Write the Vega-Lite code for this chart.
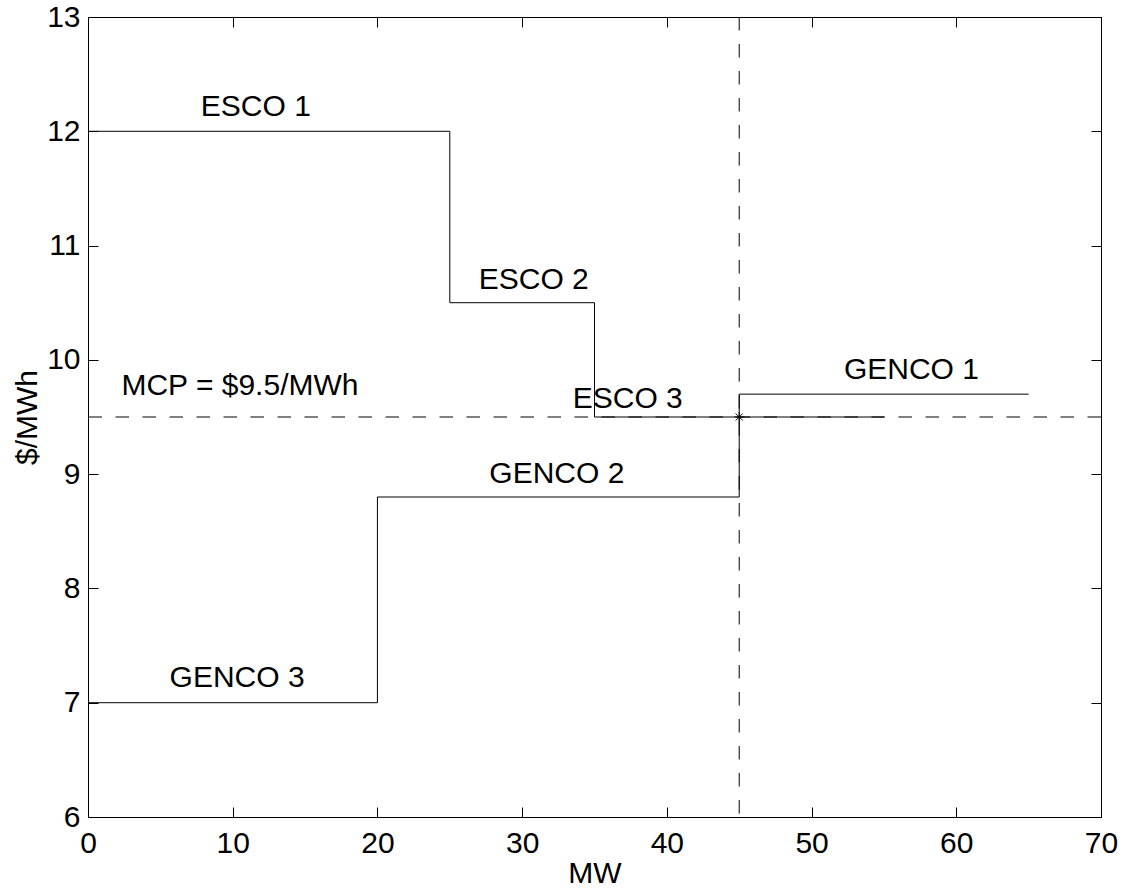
{
  "$schema": "https://vega.github.io/schema/vega-lite/v6.json",
  "width": 1013,
  "height": 800,
  "autosize": "none",
  "padding": {"left": 88, "top": 17, "right": 24, "bottom": 79},
  "background": "white",
  "config": {
    "view": {"stroke": "black", "strokeWidth": 1},
    "font": "Liberation Sans",
    "axis": {
      "grid": false,
      "domainColor": "black",
      "tickColor": "black",
      "labelColor": "black",
      "titleColor": "black",
      "labelFont": "Liberation Sans",
      "titleFont": "Liberation Sans",
      "labelFontSize": 30,
      "titleFontSize": 30,
      "titleFontWeight": "normal",
      "tickSize": -10,
      "labelOverlap": false,
      "labelFlush": false
    }
  },
  "datasets": {
    "curves": [
      {"curve": "supply", "seq": 1, "mw": 0, "price": 7},
      {"curve": "supply", "seq": 2, "mw": 20, "price": 7},
      {"curve": "supply", "seq": 3, "mw": 20, "price": 8.8},
      {"curve": "supply", "seq": 4, "mw": 45, "price": 8.8},
      {"curve": "supply", "seq": 5, "mw": 45, "price": 9.7},
      {"curve": "supply", "seq": 6, "mw": 65, "price": 9.7},
      {"curve": "demand", "seq": 1, "mw": 0, "price": 12},
      {"curve": "demand", "seq": 2, "mw": 25, "price": 12},
      {"curve": "demand", "seq": 3, "mw": 25, "price": 10.5},
      {"curve": "demand", "seq": 4, "mw": 35, "price": 10.5},
      {"curve": "demand", "seq": 5, "mw": 35, "price": 9.5},
      {"curve": "demand", "seq": 6, "mw": 55, "price": 9.5}
    ],
    "labels": [
      {"mw": 11.6, "price": 12.21, "text": "ESCO 1"},
      {"mw": 30.8, "price": 10.7, "text": "ESCO 2"},
      {"mw": 37.3, "price": 9.66, "text": "ESCO 3"},
      {"mw": 56.9, "price": 9.91, "text": "GENCO 1"},
      {"mw": 32.4, "price": 9.0, "text": "GENCO 2"},
      {"mw": 10.3, "price": 7.22, "text": "GENCO 3"},
      {"mw": 10.5, "price": 9.77, "text": "MCP = $9.5/MWh"}
    ],
    "mcp": [{"mw": 45, "price": 9.5}]
  },
  "layer": [
    {
      "data": {"name": "mcp"},
      "mark": {"type": "rule", "color": "black", "strokeWidth": 1, "strokeDash": [13.5, 13.5]},
      "encoding": {
        "y": {"field": "price", "type": "quantitative", "scale": {"domain": [6, 13], "nice": false, "zero": false},
              "axis": {"orient": "left", "title": "$/MWh", "values": [6,7,8,9,10,11,12,13], "labelPadding": 18, "titlePadding": 4}}
      }
    },
    {
      "data": {"name": "mcp"},
      "mark": {"type": "rule", "color": "black", "strokeWidth": 1, "strokeDash": [13.5, 13.5]},
      "encoding": {
        "x": {"field": "mw", "type": "quantitative", "scale": {"domain": [0, 70], "nice": false},
              "axis": {"orient": "bottom", "title": "MW", "values": [0,10,20,30,40,50,60,70], "labelPadding": 21, "titlePadding": 0}}
      }
    },
    {
      "data": {"name": "curves"},
      "mark": {"type": "line", "color": "black", "strokeWidth": 1, "interpolate": "linear"},
      "encoding": {
        "x": {"field": "mw", "type": "quantitative", "scale": {"domain": [0, 70], "nice": false},
              "axis": {"orient": "top", "title": null, "labels": false, "values": [0,10,20,30,40,50,60,70]}},
        "y": {"field": "price", "type": "quantitative", "scale": {"domain": [6, 13], "nice": false, "zero": false},
              "axis": {"orient": "right", "title": null, "labels": false, "values": [6,7,8,9,10,11,12,13]}},
        "detail": {"field": "curve"},
        "order": {"field": "seq"}
      }
    },
    {
      "data": {"name": "mcp"},
      "mark": {"type": "point", "shape": "M-1,0L1,0M0,-1L0,1M-0.7,-0.7L0.7,0.7M-0.7,0.7L0.7,-0.7", "filled": false, "stroke": "black", "strokeWidth": 1, "size": 100, "opacity": 1},
      "encoding": {
        "x": {"field": "mw", "type": "quantitative", "axis": null},
        "y": {"field": "price", "type": "quantitative", "axis": null}
      }
    },
    {
      "data": {"name": "labels"},
      "mark": {"type": "text", "font": "Liberation Sans", "fontSize": 30, "color": "black", "align": "center", "baseline": "middle"},
      "encoding": {
        "x": {"field": "mw", "type": "quantitative", "axis": null},
        "y": {"field": "price", "type": "quantitative", "axis": null},
        "text": {"field": "text"}
      }
    }
  ],
  "resolve": {"axis": {"x": "independent", "y": "independent"}}
}
